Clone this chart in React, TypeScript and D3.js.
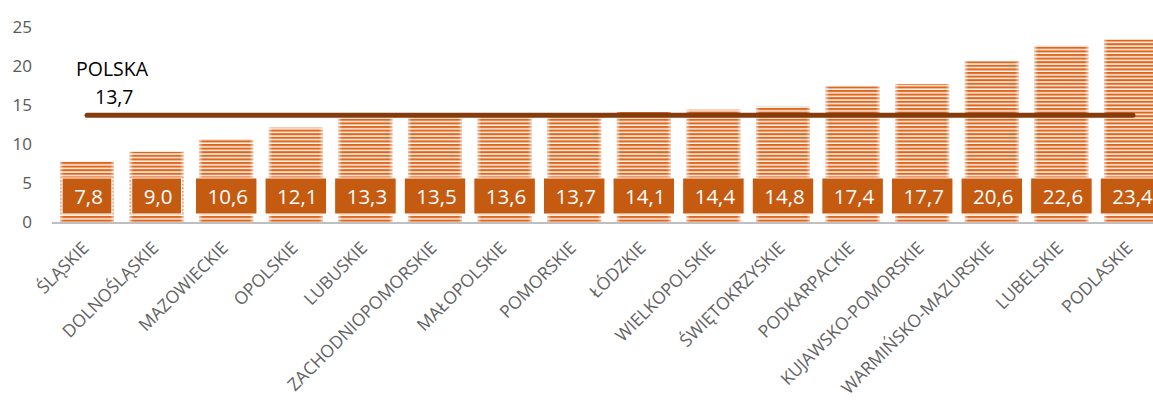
import * as d3 from "d3";

const regions = [
  "ŚLĄSKIE",
  "DOLNOŚLĄSKIE",
  "MAZOWIECKIE",
  "OPOLSKIE",
  "LUBUSKIE",
  "ZACHODNIOPOMORSKIE",
  "MAŁOPOLSKIE",
  "POMORSKIE",
  "ŁÓDZKIE",
  "WIELKOPOLSKIE",
  "ŚWIĘTOKRZYSKIE",
  "PODKARPACKIE",
  "KUJAWSKO-POMORSKIE",
  "WARMIŃSKO-MAZURSKIE",
  "LUBELSKIE",
  "PODLASKIE",
];
const values = [7.8, 9.0, 10.6, 12.1, 13.3, 13.5, 13.6, 13.7, 14.1, 14.4, 14.8, 17.4, 17.7, 20.6, 22.6, 23.4];
const polska = 13.7;
const yTicks = [0, 5, 10, 15, 20, 25];

const fmt = (v: number) => v.toFixed(1).replace(".", ",");
const font = "'Open Sans', sans-serif";
const valueSize = 20.5;
// rough width of a label like "13,7" in Open Sans
const textW = (s: string) =>
  s.split("").reduce((a, c) => a + (c === "," ? 0.26 : 0.572), 0) * valueSize;

export default function App() {
  // step ~69.6px, first bar starts at x=60, chart runs past the right edge
  const x = d3
    .scaleBand()
    .domain(regions)
    .range([52.2, 52.2 + 16 * 69.6])
    .paddingInner(0.224)
    .paddingOuter(0.112);
  const y = d3.scaleLinear().domain([0, 25]).range([222, 27]);

  const first = x(regions[0])! + x.bandwidth() / 2;
  const last = x(regions[regions.length - 1])! + x.bandwidth() / 2;

  return (
    <svg
      width={1153}
      height={403}
      style={{ position: "absolute", left: 0, top: 0, background: "white" }}
    >
      <defs>
        <pattern id="stripes" patternUnits="userSpaceOnUse" width="10" height="3.6">
          <rect width="10" height="3.6" fill="#fdf3ec" />
          <rect y="0" width="10" height="1.8" fill="#dd671f" />
          <rect y="1.8" width="10" height="0.6" fill="#f3b088" />
        </pattern>
        <linearGradient id="edge" x1="0" x2="1" y1="0" y2="0">
          <stop offset="0" stopColor="#fff" stopOpacity={0.55} />
          <stop offset="0.07" stopColor="#fff" stopOpacity={0} />
          <stop offset="0.93" stopColor="#fff" stopOpacity={0} />
          <stop offset="1" stopColor="#fff" stopOpacity={0.55} />
        </linearGradient>
      </defs>

      {yTicks.map((t) => (
        <text
          key={t}
          x={32}
          y={y(t)}
          dy="0.35em"
          textAnchor="end"
          fontSize={17}
          fontFamily={font}
          fill="#595959"
        >
          {t}
        </text>
      ))}

      {values.map((v, i) => (
        <g key={i}>
          <rect
            x={x(regions[i])}
            y={y(v)}
            width={x.bandwidth()}
            height={y(0) - y(v)}
            fill="url(#stripes)"
          />
          <rect
            x={x(regions[i])}
            y={y(v)}
            width={x.bandwidth()}
            height={y(0) - y(v)}
            fill="url(#edge)"
          />
        </g>
      ))}

      <line x1={52} x2={1153} y1={y(0) + 1} y2={y(0) + 1} stroke="#bfbfbf" strokeWidth={2} />

      <line
        x1={first}
        x2={last + 2}
        y1={y(polska)}
        y2={y(polska)}
        stroke="#843c0c"
        strokeWidth={5}
        strokeLinecap="round"
      />
      <text x={76} y={76} fontSize={19.5} fontFamily={font} fill="#000">
        POLSKA
      </text>
      <text x={95} y={104} fontSize={19.5} fontFamily={font} fill="#000">
        {fmt(polska)}
      </text>

      {values.map((v, i) => {
        const cx = x(regions[i])! + x.bandwidth() / 2;
        const label = fmt(v);
        const bw = textW(label) + 21;
        return (
          <g key={i}>
            <rect
              x={cx - bw / 2}
              y={178}
              width={bw}
              height={36}
              fill="#c55a11"
              stroke="#fff"
              strokeWidth={1}
            />
            <text
              x={cx + 1.5}
              y={197}
              dy="0.35em"
              textAnchor="middle"
              fontSize={valueSize}
              fontFamily={font}
              fill="#fff"
            >
              {label}
            </text>
          </g>
        );
      })}

      {regions.map((r) => {
        const cx = x(r)! + x.bandwidth() / 2;
        return (
          <text
            key={r}
            transform={`translate(${cx + 3},${249}) rotate(-45)`}
            textAnchor="end"
            fontSize={17.5}
            fontFamily={font}
            fill="#636363"
          >
            {r}
          </text>
        );
      })}
    </svg>
  );
}
